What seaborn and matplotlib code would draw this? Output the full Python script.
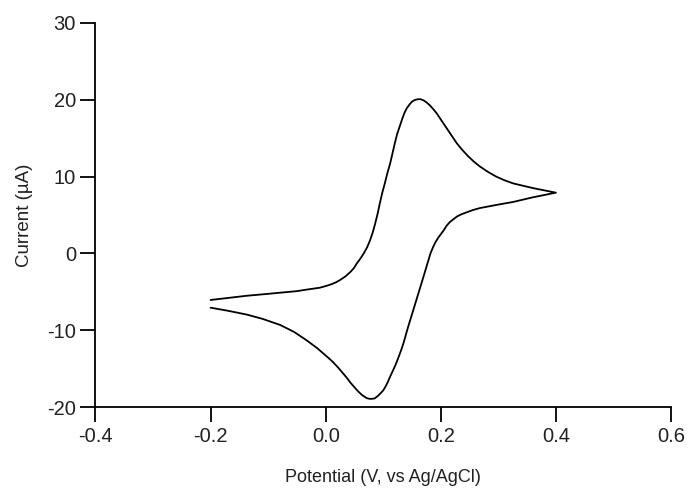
import matplotlib
matplotlib.use("Agg")
import matplotlib.pyplot as plt
import seaborn as sns
import pandas as pd

# forward sweep (-0.2 V -> 0.4 V)
fwd_potential = [-0.200, -0.160, -0.137, -0.100, -0.079, -0.050, -0.033, -0.010, 0.002,
                 0.010, 0.018, 0.025, 0.034, 0.043, 0.049, 0.054, 0.060, 0.066, 0.072,
                 0.077, 0.082, 0.086, 0.090, 0.094, 0.098, 0.103, 0.107, 0.112, 0.116,
                 0.120, 0.124, 0.129, 0.133, 0.137, 0.141, 0.146, 0.150, 0.155, 0.160,
                 0.165, 0.170, 0.175, 0.181, 0.187, 0.193, 0.201, 0.210, 0.219, 0.228,
                 0.238, 0.248, 0.258, 0.268, 0.282, 0.296, 0.311, 0.326, 0.343, 0.360,
                 0.380, 0.400]
fwd_current = [-6.05, -5.7, -5.5, -5.25, -5.1, -4.9, -4.7, -4.45, -4.2,
               -4.0, -3.75, -3.45, -3.0, -2.4, -1.9, -1.3, -0.7, 0.0, 0.8,
               1.7, 2.8, 3.9, 5.1, 6.5, 7.8, 9.2, 10.4, 11.7, 13.0,
               14.3, 15.5, 16.6, 17.5, 18.3, 18.9, 19.4, 19.75, 19.95, 20.05,
               20.05, 19.9, 19.65, 19.25, 18.75, 18.2, 17.3, 16.3, 15.3, 14.3,
               13.4, 12.6, 11.9, 11.3, 10.6, 10.0, 9.5, 9.1, 8.8, 8.5,
               8.2, 7.9]

# reverse sweep (0.4 V -> -0.2 V)
rev_potential = [0.380, 0.360, 0.343, 0.326, 0.311, 0.296, 0.282, 0.268, 0.256, 0.245,
                 0.236, 0.228, 0.222, 0.216, 0.210, 0.205, 0.200, 0.196, 0.191, 0.187,
                 0.182, 0.178, 0.174, 0.170, 0.1655, 0.161, 0.1565, 0.152, 0.1475, 0.143,
                 0.139, 0.135, 0.1305, 0.126, 0.1215, 0.117, 0.112, 0.108, 0.104, 0.100,
                 0.095, 0.091, 0.085, 0.080, 0.076, 0.071, 0.067, 0.063, 0.056, 0.050,
                 0.043, 0.037, 0.028, 0.020, 0.011, 0.002, -0.015, -0.033, -0.055, -0.079,
                 -0.110, -0.137, -0.170, -0.200]
rev_current = [7.6, 7.3, 7.0, 6.7, 6.5, 6.3, 6.1, 5.9, 5.65, 5.35,
               5.1, 4.8, 4.45, 4.1, 3.6, 3.0, 2.5, 2.1, 1.5, 0.9,
               0.0, -1.0, -2.0, -3.0, -4.1, -5.2, -6.3, -7.4, -8.5, -9.6,
               -10.65, -11.7, -12.7, -13.6, -14.45, -15.2, -16.0, -16.7, -17.3, -17.8,
               -18.2, -18.5, -18.85, -18.9, -18.9, -18.8, -18.6, -18.4, -17.9, -17.4,
               -16.8, -16.2, -15.4, -14.7, -14.0, -13.4, -12.3, -11.3, -10.2, -9.3,
               -8.5, -7.95, -7.45, -7.05]

x_ticks = [-0.4, -0.2, 0.0, 0.2, 0.4, 0.6]
y_ticks = [-20, -10, 0, 10, 20, 30]

cv = pd.DataFrame({
    "potential": fwd_potential + rev_potential,
    "current": fwd_current + rev_current,
})

sns.set_style("ticks")
plt.rcParams["font.family"] = ["Liberation Sans", "DejaVu Sans"]

fig = plt.figure(figsize=(6.89, 4.90), dpi=100)
ax = fig.add_axes([0.1386, 0.1688, 0.9739 - 0.1386, 0.9537 - 0.1688])

sns.lineplot(data=cv, x="potential", y="current", sort=False, estimator=None,
             color="black", linewidth=1.3, ax=ax)

ax.set_xlim(-0.4, 0.6)
ax.set_ylim(-20, 30)
ax.set_xticks(x_ticks)
ax.set_xticklabels([f"{t:.1f}" for t in x_ticks])
ax.set_yticks(y_ticks)
ax.set_yticklabels([str(t) for t in y_ticks])
sns.despine(ax=ax)
for s in ["left", "bottom"]:
    ax.spines[s].set_linewidth(1.3)
    ax.spines[s].set_color("black")
ax.tick_params(direction="out", length=11, width=1.3, color="black",
               labelsize=14.5, pad=3, labelcolor="#222222")

ax.set_xlabel("Potential (V, vs Ag/AgCl)", fontsize=13, color="#222222", labelpad=17)
ax.set_ylabel("Current (µA)", fontsize=13.5, color="#222222", labelpad=10)

fig.savefig("out.png", dpi=100)
